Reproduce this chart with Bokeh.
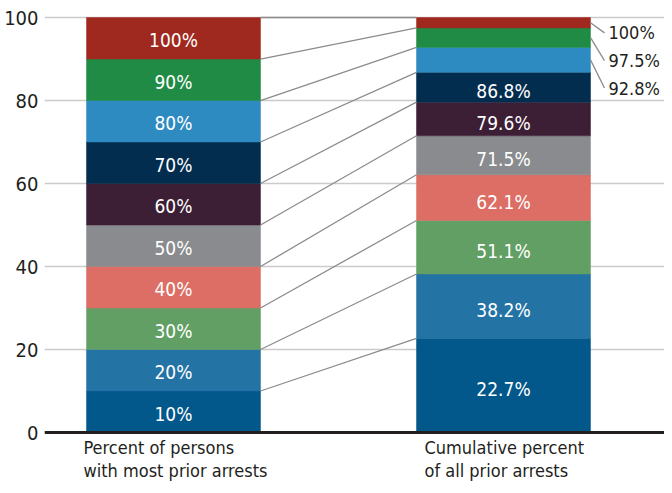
from bokeh.plotting import figure
from bokeh.models import Range1d, FixedTicker, Span, ColumnDataSource
from bokeh.core.properties import value
from bokeh.embed import file_html
from bokeh.resources import INLINE

# ---- data ----
left_values = [10, 20, 30, 40, 50, 60, 70, 80, 90, 100]
left_labels = ["10%", "20%", "30%", "40%", "50%", "60%", "70%", "80%", "90%", "100%"]
cum_values = [22.7, 38.2, 51.1, 62.1, 71.5, 79.6, 86.8, 92.8, 97.5, 100]
cum_labels = ["22.7%", "38.2%", "51.1%", "62.1%", "71.5%", "79.6%", "86.8%", "92.8%", "97.5%", "100%"]
colors = ["#02578b", "#2473a5", "#629f64", "#dc6e65", "#898b8e",
          "#3c1e35", "#032d4f", "#2e8bc1", "#1f8b44", "#a0291f"]
categories = ["Percent of persons\nwith most prior arrests",
              "Cumulative percent\nof all prior arrests"]
y_ticks = [0, 20, 40, 60, 80, 100]

FONT = "DejaVu Sans Condensed"
FS = "19px"

bar_x = [1, 2]
bar_w = 0.5273
half = bar_w / 2

p = figure(width=664, height=485, output_backend="svg", toolbar_location=None,
           x_range=Range1d(0.6091, 2.4879), y_range=Range1d(-12.77, 104.10),
           min_border_left=44, min_border_right=0, min_border_top=0, min_border_bottom=0)
p.outline_line_color = None
p.background_fill_color = "white"
p.xaxis.visible = False
p.xgrid.visible = False
p.yaxis.ticker = FixedTicker(ticks=y_ticks)
p.ygrid.ticker = FixedTicker(ticks=y_ticks)
p.ygrid.grid_line_color = "#cbcbcb"
p.ygrid.grid_line_width = 1.5
p.yaxis.axis_line_color = None
p.yaxis.major_tick_line_color = None
p.yaxis.minor_tick_line_color = None
p.yaxis.major_tick_out = 0
p.yaxis.major_label_standoff = 6
p.yaxis.major_label_text_font = FONT
p.yaxis.major_label_text_font_size = "20px"
p.yaxis.major_label_text_color = "#231f20"

# left bar
left_bottoms = [0] + left_values[:-1]
src_l = ColumnDataSource(dict(
    x=[bar_x[0]] * len(left_values), bottom=left_bottoms, top=left_values,
    color=colors, label=left_labels,
    mid=[(b + t) / 2 for b, t in zip(left_bottoms, left_values)]))
p.vbar(x="x", bottom="bottom", top="top", width=bar_w, fill_color="color",
       line_color="color", line_width=0.5, source=src_l)
p.text(x="x", y="mid", text="label", source=src_l, text_color="white",
       text_font=value(FONT), text_font_size=FS, text_align="center",
       text_baseline="middle", y_offset=2)

# right bar
cum_bottoms = [0] + cum_values[:-1]
cum_mids = [(b + t) / 2 for b, t in zip(cum_bottoms, cum_values)]
src_r = ColumnDataSource(dict(
    x=[bar_x[1]] * len(cum_values), bottom=cum_bottoms, top=cum_values,
    color=colors, mid=cum_mids))
p.vbar(x="x", bottom="bottom", top="top", width=bar_w, fill_color="color",
       line_color="color", line_width=0.5, source=src_r)

n_inside = 7
p.text(x=[bar_x[1]] * n_inside, y=cum_mids[:n_inside], text=cum_labels[:n_inside],
       text_color="white", text_font=value(FONT), text_font_size=FS,
       text_align="center", text_baseline="middle", y_offset=4)

# connectors between bars
p.segment(x0=[bar_x[0] + half] * len(left_values), y0=left_values,
          x1=[bar_x[1] - half] * len(cum_values), y1=cum_values,
          line_color="#8c8c8c", line_width=1.3)

# outside labels for the three thin top segments
label_y = [83.0, 89.6, 96.3]
out_idx = [7, 8, 9]
p.segment(x0=[bar_x[1] + half] * 3, y0=[cum_mids[i] for i in out_idx],
          x1=[bar_x[1] + half + 0.0424] * 3, y1=label_y,
          line_color="#8c8c8c", line_width=1.3)
p.text(x=[bar_x[1] + half + 0.0545] * 3, y=label_y, text=[cum_labels[i] for i in out_idx],
       text_color="#231f20", text_font=value(FONT), text_font_size="18px",
       text_align="left", text_baseline="middle")

# baseline
p.add_layout(Span(location=0, dimension="width", line_color="#231f20", line_width=3))

# category labels (two lines each, left aligned, block centred under bar)
cat_offsets = [-90, -79]
for xi, cat, off in zip(bar_x, categories, cat_offsets):
    l1, l2 = cat.split("\n")
    p.text(x=[xi], y=[-3.61], text=[l1], x_offset=off, text_color="#231f20",
           text_font=value(FONT), text_font_size="18px", text_align="left",
           text_baseline="middle")
    p.text(x=[xi], y=[-9.16], text=[l2], x_offset=off, text_color="#231f20",
           text_font=value(FONT), text_font_size="18px", text_align="left",
           text_baseline="middle")

open("out.html", "w").write(file_html(p, INLINE))
